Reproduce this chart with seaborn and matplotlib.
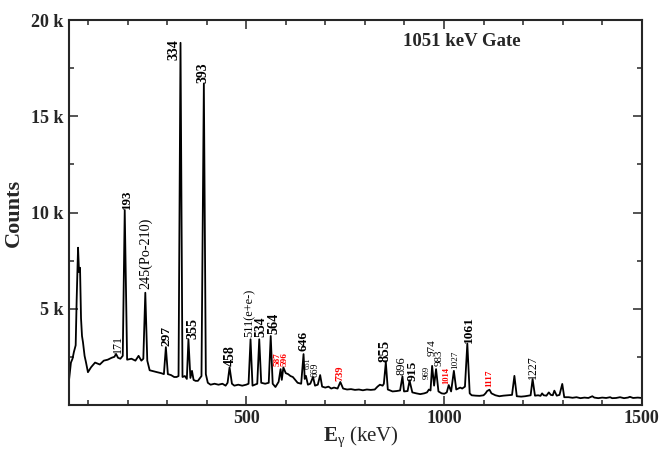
import numpy as np
import pandas as pd
import matplotlib
matplotlib.use("Agg")
import matplotlib.pyplot as plt
from matplotlib.ticker import MultipleLocator, FixedLocator, FuncFormatter
import seaborn as sns

# background / continuum vertices (keV, counts)
bg_energy = [52, 57, 61, 64.5, 69, 71.5, 77.5, 82.5, 85, 87.5, 91.5, 95, 100, 108, 118, 130, 140, 150, 160, 167,
             176, 182, 188, 199, 210, 220, 228, 235, 240, 250, 256, 265, 275, 285, 292, 302, 310, 318, 324, 329,
             339, 345, 350, 359, 367, 372, 378, 387, 398, 403, 410, 420, 430, 440, 448, 453, 464, 470, 480, 490,
             500, 506, 516, 522, 528, 538, 548, 557, 567, 574, 582, 590, 600, 606, 612, 618, 624, 630, 639, 648,
             656, 662, 674, 681, 692, 700, 708, 715, 722, 731, 745, 755, 765, 775, 785, 795, 805, 815, 825, 832,
             838, 845, 848, 858, 870, 880, 889, 899, 908, 920, 930, 940, 950, 957, 966, 975, 986, 994, 1001, 1007,
             1018, 1031, 1036, 1041, 1046, 1053, 1065, 1070, 1080, 1090, 1100, 1105, 1109, 1120, 1130, 1140, 1150,
             1160, 1172, 1184, 1195, 1205, 1219, 1230, 1238, 1244, 1252, 1259, 1270, 1275, 1285, 1292, 1304, 1315,
             1325, 1335, 1345, 1355, 1365, 1380, 1390, 1400, 1410, 1425, 1435, 1445, 1455, 1465, 1478, 1490, 1500]
bg_counts = [1260, 2200, 2400, 2750, 3100, 5480, 6900, 4500, 3580, 3250, 2550, 2220, 1700, 1960, 2200, 2100, 2300,
             2350, 2450, 2500, 2450, 2400, 2550, 2350, 2400, 2300, 2550, 2300, 2400, 2300, 1800, 1750, 1700, 1650,
             1600, 1600, 1550, 1450, 1450, 1500, 1450, 1500, 1350, 1400, 1300, 1250, 1250, 1500, 1600, 1150, 1050,
             1100, 1050, 1100, 1000, 1150, 1100, 1000, 1050, 1000, 1050, 1100, 1000, 1050, 1100, 1150, 1100, 1150,
             1100, 930, 1200, 1300, 1650, 1600, 1500, 1450, 1300, 1150, 1100, 1350, 1050, 1100, 1000, 1050, 950,
             900, 950, 850, 900, 850, 850, 800, 820, 780, 800, 760, 800, 780, 800, 950, 1050, 1000, 1100, 800, 700,
             720, 750, 700, 720, 650, 600, 560, 600, 650, 750, 1000, 700, 600, 580, 650, 700, 800, 850, 900, 850,
             950, 600, 500, 480, 470, 500, 600, 720, 600, 500, 450, 480, 500, 520, 450, 430, 450, 500, 480, 500, 470,
             500, 480, 520, 500, 480, 520, 400, 400, 370, 400, 350, 380, 360, 380, 350, 380, 360, 350, 360, 400,
             350, 380, 360, 380, 360]

# peak maxima (keV, counts)
peak_energy = [75, 80, 171, 193, 245, 297, 334, 354, 363, 393, 458, 511, 533, 562, 587, 594, 645, 651, 669, 687,
               738, 853, 895, 913, 962, 970, 980, 1012, 1025, 1059, 1115, 1178, 1224, 1248, 1265, 1279, 1299, 1375,
               1420, 1470]
peak_counts = [8170, 7130, 2650, 10130, 5830, 3000, 18820, 3410, 1770, 16700, 1950, 3410, 3410, 3580, 1860, 1950,
               2640, 1510, 1450, 1550, 1190, 2220, 1480, 1260, 800, 2030, 1860, 1030, 1770, 3190, 790, 1510, 1340,
               600, 650, 740, 1090, 450, 400, 420]

# peak labels
lab_text = ["171", "193", "245(Po-210)", "297", "334", "355", "393", "458", "511(e+e-)", "534", "564", "587", "596",
            "646", "651", "669", "739", "855", "896", "915", "969", "974", "983", "1014", "1027", "1061", "1117", "1227"]
lab_energy = [177, 198, 247, 298, 318, 365, 391, 459, 508, 537, 569, 580, 597, 645, 656, 674, 736, 852, 892, 921,
              957, 969, 988, 1007, 1028, 1062, 1115, 1224]
lab_counts = [2720, 10170, 6000, 3070, 17940, 3410, 16750, 2030, 3550, 3550, 3670, 2020, 2020, 2810, 1860, 1430,
              1260, 2210, 1550, 1260, 1340, 2550, 2030, 1090, 1860, 3240, 915, 1340]
lab_size = [8.6, 9.3, 10.2, 9.6, 10, 10.2, 10, 10, 8.9, 9.8, 10.3, 6.7, 6.7, 9.6, 5.5, 7, 7.5, 10.5, 9, 9.6,
            6.4, 8, 8, 6, 6.6, 9.6, 6.6, 8.6]
lab_bold = [0, 1, 0, 1, 1, 1, 1, 1, 0, 1, 1, 1, 1, 1, 0, 0, 1, 1, 0, 1, 0, 0, 0, 1, 0, 1, 1, 0]
lab_red = [0, 0, 0, 0, 0, 0, 0, 0, 0, 0, 0, 1, 1, 0, 0, 0, 1, 0, 0, 0, 0, 0, 0, 1, 0, 0, 1, 0]

sns.set_style("ticks")
plt.rcParams['font.family'] = ['Liberation Serif', 'DejaVu Serif']
plt.rcParams['mathtext.fontset'] = 'custom'
plt.rcParams['mathtext.rm'] = 'Liberation Serif'
plt.rcParams['mathtext.bf'] = 'Liberation Serif:bold'
plt.rcParams['mathtext.it'] = 'Liberation Serif:italic'

spec = pd.DataFrame({"energy": bg_energy + peak_energy, "counts": bg_counts + peak_counts})
spec = spec.sort_values("energy")

fig = plt.figure(figsize=(6.63, 4.57), dpi=100)
ax = fig.add_axes([0.104, 0.114, 0.864, 0.842])
sns.lineplot(data=spec, x="energy", y="counts", estimator=None, sort=True, color="black", lw=1.3, ax=ax)

for t, e, c, s, b, r in zip(lab_text, lab_energy, lab_counts, lab_size, lab_bold, lab_red):
    ax.text(e, c, t, rotation=90, ha="center", va="bottom", fontsize=s,
            fontweight="bold" if b else "normal", color="red" if r else "black")

ax.text(0.583, 0.945, "1051 keV Gate", transform=ax.transAxes, fontsize=13.5, fontweight="bold",
        ha="left", va="center")

ax.set_xlim(52, 1500)
ax.set_ylim(0, 20000)
ax.xaxis.set_major_locator(FixedLocator([500, 1000, 1500]))
ax.xaxis.set_minor_locator(MultipleLocator(100))
ax.yaxis.set_major_locator(FixedLocator([5000, 10000, 15000, 20000]))
ax.yaxis.set_minor_locator(MultipleLocator(2500))
ax.yaxis.set_major_formatter(FuncFormatter(lambda v, p: f"{int(v / 1000)} k"))

ax.tick_params(which="both", direction="in", top=True, right=True, width=1.1)
ax.tick_params(which="major", length=6.5, labelsize=13, pad=4)
ax.tick_params(which="minor", length=3.6)
for lbl in ax.get_xticklabels() + ax.get_yticklabels():
    lbl.set_fontweight("bold")
for sp in ax.spines.values():
    sp.set_linewidth(1.5)
    sp.set_visible(True)

ax.set_ylabel("Counts", fontsize=16, fontweight="bold", labelpad=5)
ax.set_xlabel(r"$\mathbf{E}_{\mathrm{\gamma}}\ \mathrm{(keV)}$", fontsize=15, labelpad=2)
ax.xaxis.set_label_coords(0.51, -0.05)
ax.xaxis.label.set_va("top")

fig.savefig("out.png", dpi=100)
